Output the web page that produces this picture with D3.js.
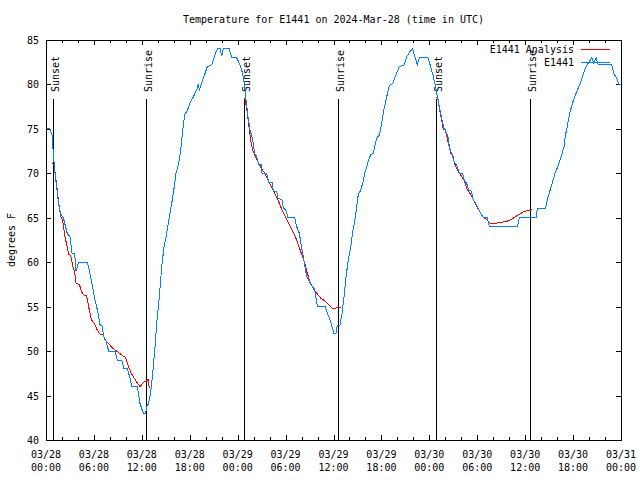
<!DOCTYPE html>
<html><head><meta charset="utf-8">
<script src="https://cdn.jsdelivr.net/npm/d3@7"></script>
<style>
body{margin:0;background:#fff}
svg{display:block}
text{font-family:"DejaVu Sans Mono","Liberation Mono",monospace;font-size:10px;fill:#000}
</style>
</head><body>
<svg id="chart" width="640" height="480"></svg>
<script>
// ---- data (hours after 2024-03-28 00:00 UTC, degrees F) ----
const titleText = "Temperature for E1441 on 2024-Mar-28 (time in UTC)";
const yLabel = "degrees F";
const seriesNames = ["E1441 Analysis", "E1441"];
const yTickValues = [40,45,50,55,60,65,70,75,80,85];

const obsHours = [0,0.5,0.75,0.85,1.08,1.34,1.59,1.84,2.17,2.42,2.67,3.0,3.26,3.59,3.76,4.09,5.17,5.43,5.76,6.09,6.34,6.59,6.76,7.01,7.26,7.5,7.85,8.64,8.93,9.47,9.77,10.18,10.52,10.73,11.44,11.77,12.19,12.48,12.6,12.8,13.1,13.36,13.65,13.94,14.19,14.49,14.78,15.11,15.44,15.74,16.03,16.28,16.61,16.87,17.12,17.37,17.7,18.03,18.45,18.87,19.07,19.2,19.5,19.9,20.2,20.75,21.04,21.45,21.8,22.0,22.2,22.95,23.25,23.88,24.3,24.63,24.83,25.04,25.29,25.55,25.88,26.13,26.38,26.63,26.97,27.05,27.63,27.88,28.3,28.46,28.88,29.05,29.55,29.72,30.05,30.3,31.14,31.39,31.72,32.06,32.34,32.64,32.9,33.2,33.62,33.8,34.0,34.98,35.23,35.48,35.81,36.06,36.31,36.48,36.81,37.07,37.32,37.57,37.86,38.16,38.4,38.66,38.9,39.1,39.4,39.66,39.9,40.16,40.41,40.66,41.0,41.24,41.49,41.75,42.03,42.3,42.66,42.99,43.41,43.83,44.24,44.83,45.16,45.58,45.91,46.2,46.5,46.74,47.83,48.17,48.5,48.83,49.08,49.33,49.59,49.84,50.0,50.34,50.5,50.84,51.17,51.42,51.75,52.17,52.42,52.67,52.92,53.25,53.5,53.84,54.09,54.43,54.76,55.26,55.51,59.02,59.27,61.36,61.53,62.53,62.78,63.12,63.45,63.74,64.16,64.58,64.87,65.0,65.21,65.62,65.96,66.46,66.87,67.29,67.62,68.04,68.34,68.6,68.88,69.17,70.84,71.13,71.46,71.71,72];
const obsTemp = [75,75,74.3,73,70.4,68.4,66.5,65.4,65,64.1,63.2,62.9,61,61,59,60,60,59.1,57.6,55.9,55,53.9,53,52.8,51.6,51.2,50,50,49,49,48,48,47,46,46,44.1,43,43,43.8,44,45.3,47.5,50.5,53.9,56.1,59.5,61.75,63.25,65.1,66.6,68.3,70,71.1,72.6,74.9,76.6,77.1,77.9,78.6,79.4,80,79.4,80.2,81.2,82,82.2,83,84,84,83.2,84,84,83,83,82.2,81.2,80.1,78.3,76.4,74.9,73.75,72.25,71.9,71,71,70,70,69,69,68,68,67.2,67,66.1,65.8,65,65,64,63.25,61.4,60,58.4,58,57.4,57,56,55,55,54.25,53.75,52.75,52,52,52.9,52.9,54.25,56.1,58.4,60.25,61.75,63.4,64.6,66.25,67.6,68.1,68.9,70,70.75,71.5,72.1,72.25,73.4,74.1,74.3,75.6,77.1,78.6,79.9,80.1,81.1,82,82.2,83.1,83.7,84,83.1,82.2,83,83,82,80.9,79.5,78.25,77.1,76,75.06,74.9,74.1,73,72.1,71.1,71,70,70,69.1,68.9,68.1,68,67,66.6,66.1,65.5,65,65,64,64,65,65,66,66,67.1,68.1,69.1,70,70.9,72.1,73,74.1,75,76.9,78,79.2,80.1,81.2,82,82.6,83,82.4,83,82.2,82.2,81.2,80.7,80,80];

const ana1Hours = [0.8,1.0,1.25,1.42,1.59,1.84,2.09,2.34,2.59,2.84,3.09,3.34,3.59,3.76,4.17,4.5,4.76,5.09,5.34,5.68,6.0,6.43,6.76,7.18,7.43,7.85,8.26,8.85,9.27,9.93,10.27,10.68,11.1,11.44,11.77,12.19,12.78,12.94];
const ana1Temp = [71.1,71,69.3,68,66.7,65.2,64.7,63,62,60.9,60.75,59.6,58.9,57.65,57.5,56.6,56.3,56.25,55,53.5,53.2,52.35,51.9,51.8,51.2,50.85,50.4,50.0,49.7,49.3,48.4,47.5,46.9,46.4,46.0,46.45,46.8,45.8];
const ana2Hours = [24.79,24.96,25.21,25.46,25.63,25.88,26.21,26.55,26.96,27.38,27.8,28.22,28.63,29.05,29.47,29.89,30.3,30.72,31.14,31.55,31.97,32.39,32.72,33.06,33.47,33.9,34.47,35.06,35.56,35.9,36.31,36.98];
const ana2Temp = [78.4,78.25,76.75,74.9,73.75,72.6,71.9,71.3,70.6,70,69.25,68.5,67.75,67,66.06,65.3,64.56,63.8,63.06,62.1,61.0,59.9,58.75,57.8,57.05,56.5,55.9,55.56,55.1,54.75,54.85,54.9];
const ana3Hours = [48.83,49.08,49.33,49.59,49.75,50.0,50.25,50.5,50.67,50.92,51.17,51.42,51.75,52.09,52.42,52.75,53.09,53.42,53.76,54.09,54.43,54.76,55.18,55.51,55.76,56.35,57.02,57.69,58.27,58.77,59.27,59.77,60.27,60.86];
const ana3Temp = [78.55,78.4,76.9,75.8,74.95,74.9,73.9,73,72.25,72.1,71.1,70.55,70,69.6,69.1,68.1,67.75,67.2,66.6,66.06,65.5,65.05,64.8,64.45,64.3,64.4,64.5,64.6,64.8,65.1,65.4,65.65,65.8,65.9];

const sunEventNames = ["Sunset","Sunrise","Sunset","Sunrise","Sunset","Sunrise"];
const sunEventHours = [0.9,12.52,24.83,36.6,48.83,60.65];

// ---- layout ----
const svg = d3.select("#chart");
const L = 46, R = 621, T = 40, B = 440;
const t0 = Date.UTC(2024, 2, 28);
const toDate = h => new Date(t0 + h * 3600000);
const x = d3.scaleUtc().domain([toDate(0), toDate(72)]).range([L, R]);
const y = d3.scaleLinear().domain([40, 85]).range([B, T]);
const blue = "#0080ff", red = "#ff0000";

svg.append("rect").attr("width",640).attr("height",480).attr("fill","#fff");

// title
svg.append("text").attr("x", (L+R)/2).attr("y", 23).attr("text-anchor","middle").text(titleText);

// y label
svg.append("text").attr("transform","translate(15,240) rotate(-90)")
  .attr("text-anchor","middle").text(yLabel);

// ticks
const g = svg.append("g").attr("shape-rendering","crispEdges").attr("stroke","#000");
const minor = x.ticks(d3.utcHour.every(2));
const major = x.ticks(d3.utcHour.every(6));
minor.forEach(d => {
  const px = Math.round(x(d)) + 0.5;
  const isMajor = d.getUTCHours() % 6 === 0;
  const len = isMajor ? 5 : 3;
  g.append("line").attr("x1",px).attr("x2",px).attr("y1",B).attr("y2",B-len);
  g.append("line").attr("x1",px).attr("x2",px).attr("y1",T).attr("y2",T+len);
});
yTickValues.forEach(v => {
  const py = Math.round(y(v)) + 0.5;
  g.append("line").attr("x1",L).attr("x2",L+5).attr("y1",py).attr("y2",py);
  g.append("line").attr("x1",R).attr("x2",R-5).attr("y1",py).attr("y2",py);
  svg.append("text").attr("x",39).attr("y",y(v)+4).attr("text-anchor","end").text(v);
});
const fmtD = d3.utcFormat("%m/%d"), fmtT = d3.utcFormat("%H:%M");
major.forEach(d => {
  const t = svg.append("text").attr("text-anchor","middle");
  t.append("tspan").attr("x", x(d)).attr("y", 457.5).text(fmtD(d));
  t.append("tspan").attr("x", x(d)).attr("y", 471).text(fmtT(d));
});

// sunrise / sunset lines
sunEventHours.forEach((h, i) => {
  const px = Math.round(x(toDate(h))) + 0.5;
  g.append("line").attr("x1",px).attr("x2",px).attr("y1",99).attr("y2",B);
  svg.append("text").attr("transform",`translate(${px+5},92) rotate(-90)`)
    .attr("text-anchor","start").text(sunEventNames[i]);
});

// series
const line = d3.line().x(d => x(toDate(d[0]))).y(d => y(d[1]));
const dataLayer = svg.append("g").attr("fill","none").attr("stroke-width",1)
  .attr("shape-rendering","crispEdges");
[[ana1Hours,ana1Temp],[ana2Hours,ana2Temp],[ana3Hours,ana3Temp]].forEach(([hs,ts]) => {
  dataLayer.append("path").attr("stroke", red).attr("d", line(hs.map((h,i)=>[h, ts[i]])));
});
dataLayer.append("path").attr("stroke", blue).attr("d", line(obsHours.map((h,i)=>[h, obsTemp[i]])));

// frame
svg.append("rect").attr("x",L+0.5).attr("y",T+0.5).attr("width",R-L).attr("height",B-T)
  .attr("fill","none").attr("stroke","#000").attr("shape-rendering","crispEdges");

// legend
const legY = [49, 62];
const legColors = [red, blue];
seriesNames.forEach((n, i) => {
  svg.append("text").attr("x",574).attr("y",legY[i]+4).attr("text-anchor","end").text(n);
  svg.append("line").attr("x1",581).attr("x2",610).attr("y1",legY[i]+0.5).attr("y2",legY[i]+0.5)
    .attr("stroke",legColors[i]).attr("stroke-width",1).attr("shape-rendering","crispEdges");
});
</script>
</body></html>
